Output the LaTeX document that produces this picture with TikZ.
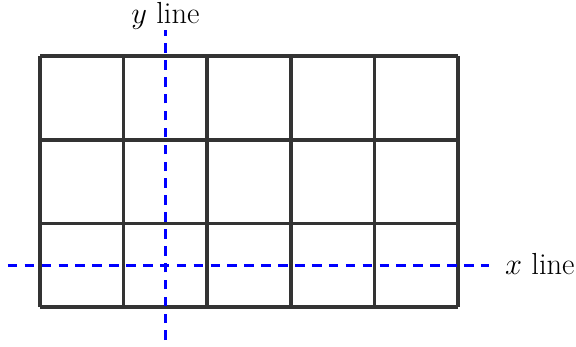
\documentclass[tikz,border=0pt]{standalone}
\usetikzlibrary{positioning}
\tikzset{
  cellgrid/.style={line width=2.4pt, draw=black!80},
  axisline/.style={line width=2pt, blue, dash pattern=on 6.5pt off 5pt},
  axislabel/.style={font=\huge, inner sep=0pt}
}
\begin{document}
\begin{tikzpicture}
 \useasboundingbox (-0.957,-0.933) rectangle (12.82,7.343);
 \draw[cellgrid] (0,0) grid[step=2] (10,6);
 \coordinate (ybot) at (3,-0.79);
 \coordinate (ytop) at (3,6.63);
 \coordinate (xleft) at (-0.77,1);
 \coordinate (xright) at (10.74,1);
 \draw[axisline] (ybot) -- (ytop);
 \draw[axisline] (xleft) -- (xright);
 \node[axislabel, anchor=base] (ylab) at (3,6.79) {$y$ line};
 \node[axislabel, anchor=base west] (xlab) at (11.12,0.77) {$x$ line};
\end{tikzpicture}
\end{document}
